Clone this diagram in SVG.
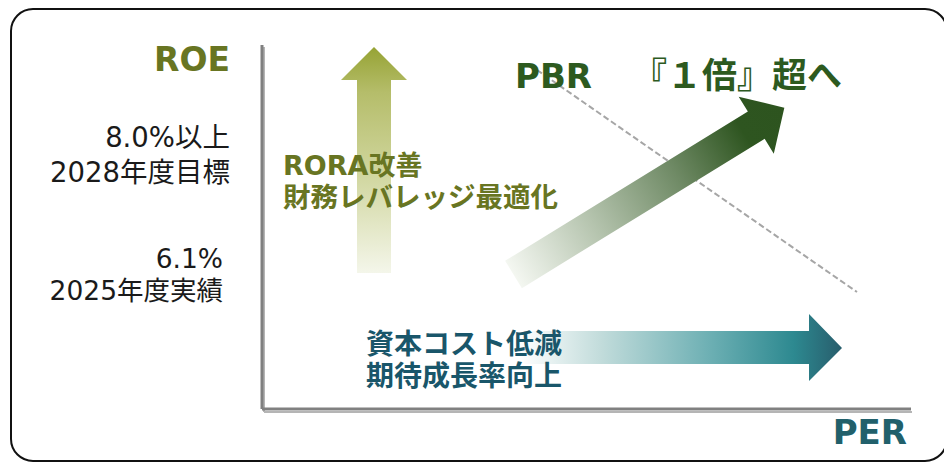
<svg xmlns="http://www.w3.org/2000/svg" width="944" height="462" viewBox="0 0 944 462">
<defs>
<linearGradient id="gOlive" x1="0" y1="0" x2="0" y2="1">
<stop offset="0" stop-color="#96a334"/>
<stop offset="0.2" stop-color="#b5bd6a"/>
<stop offset="0.55" stop-color="#cfd59c"/>
<stop offset="1" stop-color="#f4f6ea"/>
</linearGradient>
<linearGradient id="gGreen" x1="0" y1="0" x2="1" y2="0">
<stop offset="0" stop-color="#f4f7f1"/>
<stop offset="0.3" stop-color="#b4c3ad"/>
<stop offset="0.6" stop-color="#6f8a65"/>
<stop offset="0.85" stop-color="#2e5520"/>
<stop offset="1" stop-color="#2d541f"/>
</linearGradient>
<linearGradient id="gTeal" x1="520" y1="0" x2="842" y2="0" gradientUnits="userSpaceOnUse">
<stop offset="0" stop-color="#ffffff"/>
<stop offset="0.25" stop-color="#c2dcdb"/>
<stop offset="0.6" stop-color="#6aaeb2"/>
<stop offset="0.85" stop-color="#2d8990"/>
<stop offset="1" stop-color="#285d6c"/>
</linearGradient>
<style>
.lat{font-family:"DejaVu Sans","Noto Sans CJK JP",sans-serif}
.cjk{font-family:"Noto Sans CJK JP","DejaVu Sans",sans-serif}
.b{font-weight:bold}
.val{fill:#1a1a1a;text-anchor:end}
.olive{fill:#687522}
.teal{fill:#19566a}
</style>
</defs>
<rect x="11" y="9" width="936" height="452" rx="22" fill="#ffffff" stroke="#111111" stroke-width="2"/>
<g id="axes">
<line x1="264" y1="47" x2="264" y2="412" stroke="#b5b5b5" stroke-width="2"/>
<line x1="264" y1="412" x2="912" y2="412" stroke="#b5b5b5" stroke-width="2"/>
<line x1="262" y1="45" x2="262" y2="409" stroke="#808080" stroke-width="3"/>
<line x1="262" y1="409" x2="911" y2="409" stroke="#808080" stroke-width="3"/>
</g>
<g id="connectors">
<line x1="537" y1="70" x2="857" y2="292" stroke="#a6a6a6" stroke-width="2" stroke-dasharray="6,3"/>
<path id="roe-arrow" d="M357,273 L357,80 L341,80 L374,47 L407,80 L391,80 L391,273 Z" fill="url(#gOlive)"/>
<path id="per-arrow" d="M520,331 L809,331 L809,314 L842,348 L809,381 L809,364 L520,364 Z" fill="url(#gTeal)"/>
<g transform="translate(513.5,274.5) rotate(-31.6)">
<path id="pbr-arrow" d="M0,-16 L285,-16 L285,-33.5 L318,0 L285,33.5 L285,16 L0,16 Z" fill="url(#gGreen)"/>
</g>
</g>
<g id="roe-label"><text class="lat b olive" x="230" y="71" font-size="33" text-anchor="end">ROE</text></g>
<g id="target"><text class="lat val" x="230" y="147" font-size="27.5">8.0%以上</text><text class="lat val" x="230" y="182" font-size="27.5">2028年度目標</text></g>
<g id="actual"><text class="lat val" x="223" y="268" font-size="26.5">6.1%</text><text class="lat val" x="223" y="300" font-size="26.5">2025年度実績</text></g>
<g id="rora"><text class="lat b olive" x="283" y="175" font-size="27">RORA改善</text><text class="cjk b olive" x="283" y="207" font-size="27.5">財務レバレッジ最適化</text></g>
<g id="pbr"><text class="lat b" x="515" y="88" font-size="34" fill="#2d5a1f">PBR</text><text class="cjk b" x="632" y="88" font-size="35" fill="#2d5a1f">『１倍』超へ</text></g>
<g id="capital"><text class="cjk b teal" x="366" y="354" font-size="28">資本コスト低減</text><text class="cjk b teal" x="366" y="386" font-size="28">期待成長率向上</text></g>
<g id="per-label"><text class="lat b" x="907" y="444" font-size="34" fill="#21606b" text-anchor="end">PER</text></g>
</svg>
